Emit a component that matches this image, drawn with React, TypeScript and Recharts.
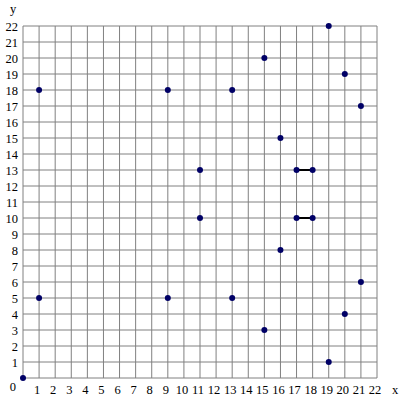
import React from "react";
import {
  ScatterChart,
  Scatter,
  XAxis,
  YAxis,
  CartesianGrid,
  ReferenceLine,
} from "recharts";

const xs = [0, 1, 1, 9, 9, 11, 11, 13, 13, 15, 15, 16, 16, 17, 18, 17, 18, 19, 19, 20, 20, 21, 21];
const ys = [0, 18, 5, 18, 5, 13, 10, 18, 5, 20, 3, 15, 8, 13, 13, 10, 10, 22, 1, 19, 4, 17, 6];
const segments = [
  [{ x: 17, y: 13 }, { x: 18, y: 13 }],
  [{ x: 17, y: 10 }, { x: 18, y: 10 }],
];
const ticks = Array.from({ length: 23 }, (_, i) => i);

const points = xs.map((x, i) => ({ x, y: ys[i] }));

const FONT = "'Liberation Serif', 'Times New Roman', serif";
const textStyle = { fontFamily: FONT, fontSize: 12.5 };

const renderXTick = (props: any) => {
  const { x, payload } = props;
  if (payload.value === 0) return <g />;
  return (
    <text x={x - 2} y={394} textAnchor="middle" style={textStyle} fill="#000">
      {payload.value}
    </text>
  );
};

const renderYTick = (props: any) => {
  const { y, payload } = props;
  const isZero = payload.value === 0;
  return (
    <text
      x={isZero ? 16 : 18}
      y={(isZero ? y + 8 : y) + 4.5}
      textAnchor="end"
      style={textStyle}
      fill="#000"
    >
      {payload.value}
    </text>
  );
};

const Dot = (props: any) => {
  const { cx, cy } = props;
  return <circle cx={cx} cy={cy} r={3} fill="#000066" />;
};

export default function App() {
  return (
    <div
      style={{
        position: "absolute",
        left: 0,
        top: 0,
        width: 405,
        height: 405,
        background: "#fff",
        fontFamily: FONT,
      }}
    >
      <ScatterChart
        width={405}
        height={405}
        margin={{ top: 26, right: 28, bottom: 0, left: 0 }}
        style={{ fontFamily: FONT }}
      >
        <CartesianGrid stroke="#808080" strokeWidth={1} />
        <XAxis
          type="number"
          dataKey="x"
          domain={[0, 22]}
          ticks={ticks}
          interval={0}
          height={27}
          axisLine={false}
          tickLine={false}
          tick={renderXTick}
        />
        <YAxis
          type="number"
          dataKey="y"
          domain={[0, 22]}
          ticks={ticks}
          interval={0}
          width={23}
          axisLine={false}
          tickLine={false}
          tick={renderYTick}
        />
        {segments.map((s, i) => (
          <ReferenceLine key={i} segment={s} stroke="#000" strokeWidth={2} ifOverflow="visible" />
        ))}
        <Scatter data={points} shape={<Dot />} isAnimationActive={false} />
        <text x={13} y={13} textAnchor="middle" style={textStyle} fill="#000">
          y
        </text>
        <text x={395} y={394} textAnchor="middle" style={textStyle} fill="#000">
          x
        </text>
      </ScatterChart>
    </div>
  );
}
